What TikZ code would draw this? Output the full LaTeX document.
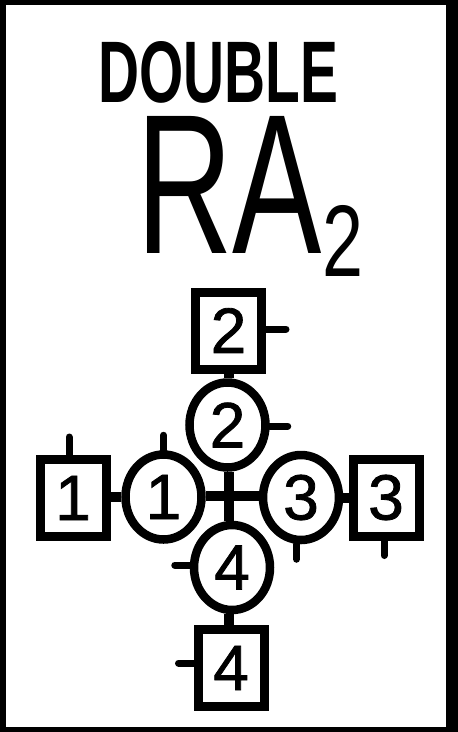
\documentclass[tikz,border=0pt]{standalone}
\usepackage{fontspec}
\setmainfont{Liberation Sans}
\newfontfamily\digitfont[FakeBold=1.3]{Liberation Sans}
\usepackage{graphicx}
\usetikzlibrary{shapes.geometric}
\begin{document}
\begin{tikzpicture}[x=1pt,y=-1pt,
  digit/.style={font=\digitfont\fontsize{64}{64}\selectfont},
  sq/.style={draw, line width=9pt, rectangle, minimum width=66pt, minimum height=77pt, inner sep=0pt, digit},
  ci/.style={draw, line width=8.5pt, ellipse, minimum width=76pt, minimum height=85pt, inner sep=0pt, digit},
  conn/.style={line width=10pt},
  tk/.style={line width=7pt, line cap=round},
  title/.style={anchor=north west, inner sep=0pt}]
\fill[black] (0,0) rectangle (458,732);
\fill[white] (6,5) rectangle (446,727);
\useasboundingbox (0,0) rectangle (458,732);
% title
\node[title] (dbl) at (98,41) {\resizebox{240pt}{61pt}{\bfseries DOUBLE}};
\node[title] (ra) at (136,116) {\resizebox{186pt}{137pt}{RA}};
\node[title] (sub) at (322,205) {\resizebox{41pt}{71pt}{2}};
% squares
\node[sq] (sq2) at (228.5,330.5) {2};
\node[sq] (sq1) at (73,498) {1};
\node[sq] (sq3) at (386,497.5) {3};
\node[sq] (sq4) at (231,668) {4};
% circles
\node[ci] (c2) at (227.5,425) {2};
\node[ci] (c1) at (163.5,497) {1};
\node[ci] (c3) at (301,497.5) {3};
\node[ci] (c4) at (232,567.5) {4};
\coordinate (X) at (229,496);
% connectors
\draw[conn] (sq2.south) -- (sq2.south |- c2.north);
\draw[conn] (sq1.east |- c1.west) -- (c1.west);
\draw[conn] (c3.east) -- (sq3.west |- c3.east);
\draw[conn] (c4.south -| X) -- (sq4.north -| X);
\draw[conn] (X |- c2.south) -- (X |- c4.north);
\draw[conn] (c1.east |- X) -- (c3.west |- X);
% ticks
\draw[tk] ([yshift=1.5pt]sq2.east) -- ++(20,0);
\draw[tk] ([yshift=-1pt]c2.east) -- ++(18,0);
\draw[tk] (c1.north) -- ++(0,-15);
\draw[tk] ([xshift=-4pt]sq1.north) -- ++(0,-18);
\draw[tk] ([xshift=-4.5pt]c3.south) -- ++(0,15);
\draw[tk] ([xshift=-2pt]sq3.south) -- ++(0,15);
\draw[tk] ([yshift=2.5pt]c4.west) -- ++(-15,0);
\draw[tk] ([yshift=5pt]sq4.west) -- ++(-15,0);
\end{tikzpicture}
\end{document}
